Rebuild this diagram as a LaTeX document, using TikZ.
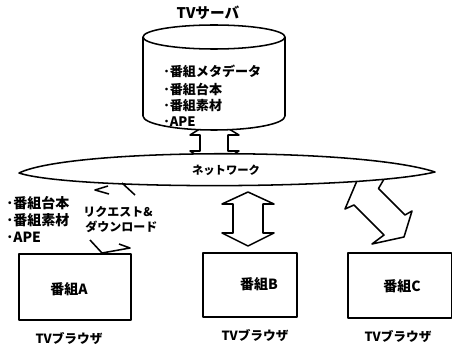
\documentclass[tikz,border=0pt]{standalone}
\usepackage{fontspec}
\newfontfamily\jp{Noto Sans CJK JP}
\begin{document}
\begin{tikzpicture}[x=0.75pt,y=-0.75pt, line join=round,
  every node/.style={inner sep=0pt},
  txt/.style={font=\jp\bfseries\fontsize{#1}{#1}\selectfont},
  txt/.default=9.5,
  blockarrow/.style={draw, fill=white, line width=1.15pt},
  outline/.style={draw, line width=1.15pt},
  frag/.style={draw, line width=1.15pt}]
\useasboundingbox (0,0) rectangle (453,346);

% arrow between server and network (tips hidden)
\draw[blockarrow] (214,120) -- (239,135) -- (228,135) -- (228,151) -- (239,151)
  -- (214,166) -- (190,151) -- (200,151) -- (200,135) -- (190,135) -- cycle;

% server cylinder
\coordinate (srv) at (214,37);
\draw[outline, fill=white] (143,37) arc[start angle=180, end angle=360, x radius=71, y radius=12]
  -- (285,116) arc[start angle=0, end angle=180, x radius=71, y radius=14] -- cycle;
\draw[outline] (143,37) arc[start angle=180, end angle=0, x radius=71, y radius=12];
\node[txt=11] (srvlabel) at (208,13) {TVサーバ};
\node[txt=9.8, anchor=west] (m1) at (163,71) {･番組メタデータ};
\node[txt=9.8, anchor=west] (m2) at (163,89) {･番組台本};
\node[txt=9.8, anchor=west] (m3) at (163,106) {･番組素材};
\node[txt=9.8, anchor=west] (m4) at (163,122) {･APE};

% arrow C (drawn before network so its top is hidden)
\draw[blockarrow] (359,176) -- (345,209) -- (354,205) -- (384,235) -- (372,244)
  -- (404,237) -- (412,211) -- (405,215) -- (378.5,188.5) -- (387,174);

% network
\draw[outline, fill=white] (19,173) .. controls (70,148) and (360,147) .. (435,172)
  .. controls (360,190) and (70,190) .. (19,173) -- cycle;
\node[txt=8.5] (net) at (226,170) {ネットワーク};

% arrow B
\draw[blockarrow] (248,192) -- (274,204) -- (263,204) -- (263,233) -- (274,233)
  -- (248,246) -- (222,233) -- (233,233) -- (233,204) -- (222,204) -- cycle;

% request & download fragments
\draw[frag] (108,186) -- (95,190) -- (109,194);
\draw[frag] (122,183) -- (135,195);
\draw[frag] (90,240) -- (102,253) -- (130,248) -- (119,244);

% left list
\node[txt=10.5, anchor=west] (l1) at (6,203) {･番組台本};
\node[txt=10.5, anchor=west] (l2) at (6,220) {･番組素材};
\node[txt=10.5, anchor=west] (l3) at (6,237) {･APE};
\node[txt=9, anchor=west] (r1) at (83,212) {リクエスト\&};
\node[txt=9, anchor=west] (r2) at (85,227) {ダウンロード};

% boxes
\draw[outline] (19,254) rectangle (131,320);
\draw[outline] (203,253) rectangle (297,317);
\draw[outline] (348,253) rectangle (451.5,318);
\node[txt=10.5] (pa) at (69,289) {番組A};
\node[txt=10.5] (pb) at (259,284) {番組B};
\node[txt=10.5] (pc) at (402,286) {番組C};
\node[txt] (ba) at (69,339) {TVブラウザ};
\node[txt] (bb) at (255,336) {TVブラウザ};
\node[txt] (bc) at (398,337) {TVブラウザ};
\end{tikzpicture}
\end{document}
